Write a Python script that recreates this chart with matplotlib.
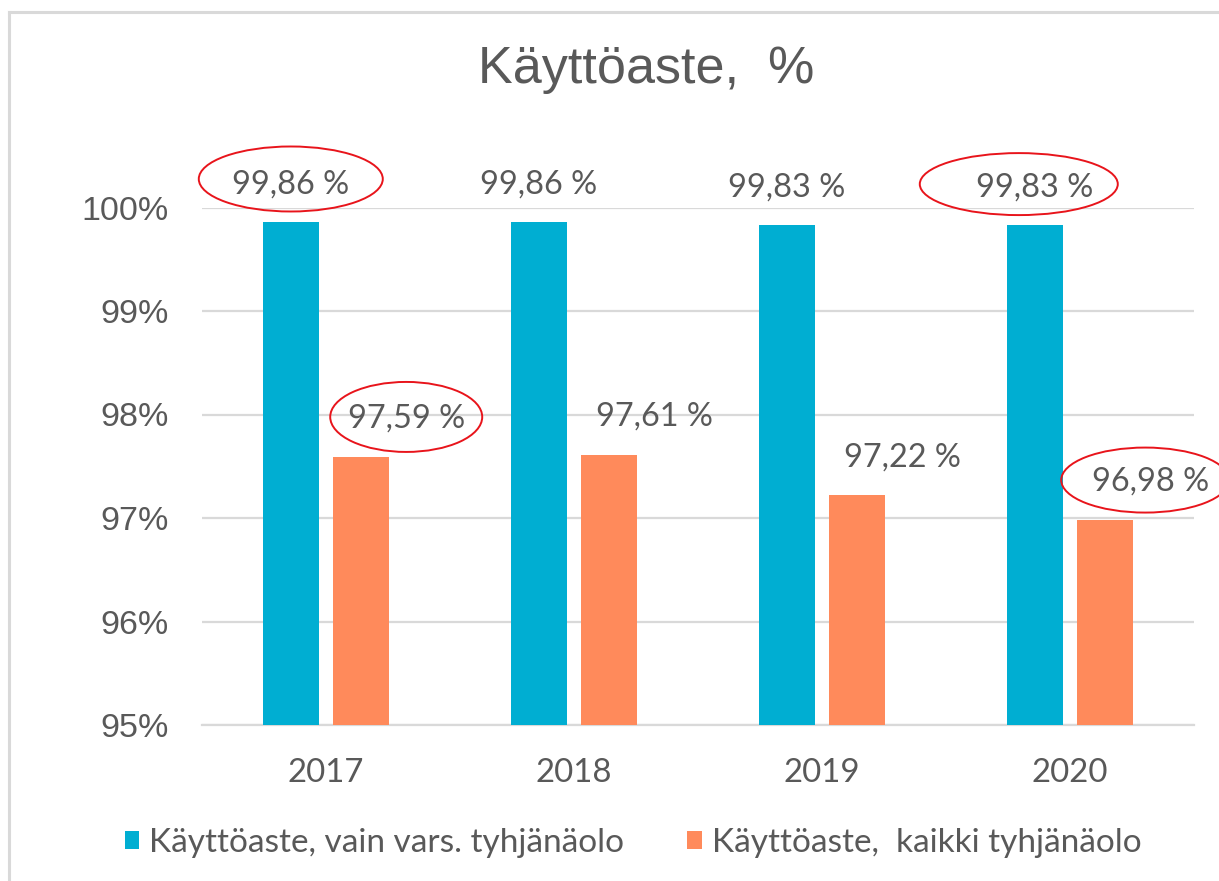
import matplotlib
matplotlib.use("Agg")
import matplotlib.pyplot as plt
import numpy as np
from matplotlib.patches import Ellipse, Patch
from matplotlib.lines import Line2D
from matplotlib.transforms import ScaledTranslation

# ── Data ──────────────────────────────────────────────────────────────────────
years = ["2017", "2018", "2019", "2020"]
vain_vars = [99.86, 99.86, 99.83, 99.83]
kaikki = [97.59, 97.61, 97.22, 96.98]
series_names = ["Käyttöaste, vain vars. tyhjänäolo", "Käyttöaste,  kaikki tyhjänäolo"]
y_ticks = [95, 96, 97, 98, 99, 100]

BLUE = "#00AED2"
ORANGE = "#FF8A5B"
TEXT = "#595959"
GRID = "#D9D9D9"
LABEL_FONT = ["Lato", "DejaVu Sans"]
AXIS_FONT = ["Liberation Sans", "DejaVu Sans"]

DPI = 100
W, H = 1219, 881

fig = plt.figure(figsize=(W / DPI, H / DPI), dpi=DPI)

# plot area in pixels: x 202..1194, y 207.5..725
ax = fig.add_axes([202 / W, 1 - 725 / H, (1194 - 202) / W, (725 - 207.5) / H])

x = np.arange(len(years))
bw = 0.225
off = 0.142
ax.bar(x - off, vain_vars, bw, color=BLUE, zorder=3)
ax.bar(x + off, kaikki, bw, color=ORANGE, zorder=3)

ax.set_xlim(-0.5, len(years) - 0.5)
ax.set_ylim(95, 100)
ax.set_yticks(y_ticks)
ax.set_yticklabels([f"{t}%" for t in y_ticks], fontsize=24.5, color=TEXT, family=AXIS_FONT)
ax.set_xticks(x)
ax.set_xticklabels(years, fontsize=23.8, color=TEXT, family=LABEL_FONT)
ax.tick_params(axis="both", length=0)
ax.tick_params(axis="y", pad=24)
ax.tick_params(axis="x", pad=24)
ax.grid(axis="y", color=GRID, lw=1.6, zorder=0)
for s in ["top", "right", "left"]:
    ax.spines[s].set_visible(False)
ax.spines["bottom"].set_color(GRID)
ax.spines["bottom"].set_linewidth(1.6)


def fmt(v):
    return f"{v:.2f}".replace(".", ",") + " %"


# ── Data labels ───────────────────────────────────────────────────────────────
for i, v in enumerate(vain_vars):
    ax.annotate(fmt(v), (x[i] - off, v), xytext=(0, 27), textcoords="offset points",
                ha="center", va="center", fontsize=23.4, color=TEXT,
                family=LABEL_FONT, annotation_clip=False)
for i, v in enumerate(kaikki):
    ax.annotate(fmt(v), (x[i] + off, v), xytext=(32.5, 27.5), textcoords="offset points",
                ha="center", va="center", fontsize=23.4, color=TEXT,
                family=LABEL_FONT, annotation_clip=False)

# ── Red highlight ellipses (series, year index, dx px, dy px, w px, h px) ─────
highlights = [
    (0, 0, 0, 43, 184, 65),
    (1, 0, 45, 40, 152, 70),
    (0, 3, -16, 41, 198, 62),
    (1, 3, 40, 40, 168, 65),
]
for s, i, dx, dy, w, h in highlights:
    if s == 0:
        px, py = x[i] - off, vain_vars[i]
    else:
        px, py = x[i] + off, kaikki[i]
    tr = fig.dpi_scale_trans + ScaledTranslation(px, py, ax.transData)
    e = Ellipse((dx / DPI, dy / DPI), w / DPI, h / DPI, transform=tr,
                fill=False, ec="#E8141B", lw=1.4, clip_on=False, zorder=5)
    fig.add_artist(e)

# ── Title ─────────────────────────────────────────────────────────────────────
fig.text(646 / W, 1 - 70 / H, "Käyttöaste,  %", ha="center", va="center",
         fontsize=37.5, color=TEXT, family=AXIS_FONT)

# ── Legend ────────────────────────────────────────────────────────────────────
handles = [Patch(facecolor=BLUE), Patch(facecolor=ORANGE)]
leg = fig.legend(handles, series_names, loc="center", bbox_to_anchor=(633 / W, 1 - 843 / H),
                 ncol=2, frameon=False, handlelength=0.43, handleheight=0.43,
                 handletextpad=0.3, columnspacing=1.9,
                 prop={"family": LABEL_FONT, "size": 24})
for t in leg.get_texts():
    t.set_color(TEXT)

# ── Chart border ──────────────────────────────────────────────────────────────
fig.add_artist(Line2D([9 / W, 9 / W], [0, 1 - 12 / H], color=GRID, lw=2.2, transform=fig.transFigure))
fig.add_artist(Line2D([9 / W, 1], [1 - 12 / H, 1 - 12 / H], color=GRID, lw=2.2, transform=fig.transFigure))

fig.savefig("out.png", dpi=DPI)
